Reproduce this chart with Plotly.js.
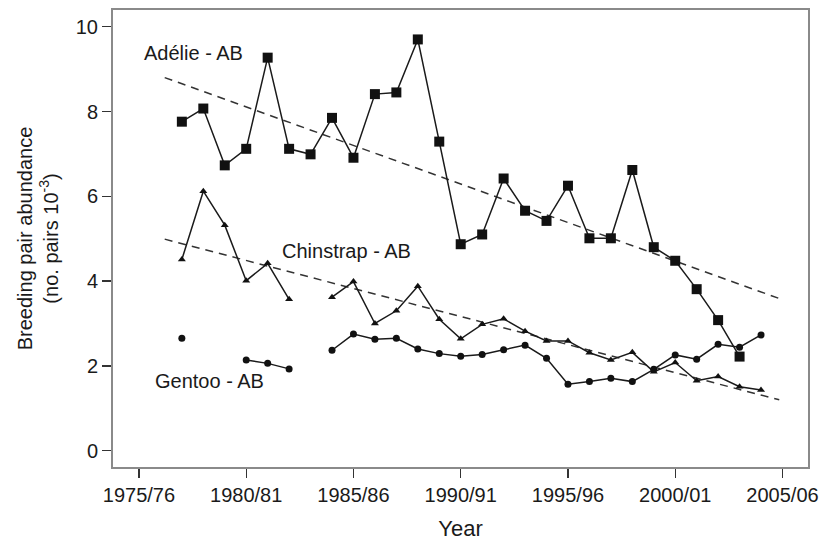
<!DOCTYPE html>
<html>
<head>
<meta charset="utf-8">
<script src="https://cdn.plot.ly/plotly-3.0.1.min.js"></script>
<style>html,body{margin:0;padding:0;background:#fff;}#chart{width:828px;height:544px;}</style>
</head>
<body>
<div id="chart"></div>
<script>
// Breeding season start year (1977 = 1977/78)
const years = [1977,1978,1979,1980,1981,1982,1983,1984,1985,1986,1987,1988,1989,1990,1991,1992,1993,1994,1995,1996,1997,1998,1999,2000,2001,2002,2003,2004];
const adelie = [7.76,8.07,6.73,7.12,9.27,7.12,6.99,7.85,6.91,8.41,8.45,9.70,7.29,4.87,5.10,6.42,5.66,5.42,6.25,5.01,5.01,6.62,4.80,4.48,3.81,3.08,2.22,null];
const chinstrap = [4.51,6.12,5.32,4.01,4.42,3.57,null,3.62,3.99,3.00,3.30,3.88,3.10,2.64,2.98,3.11,2.82,2.59,2.59,2.31,2.14,2.32,1.86,2.08,1.65,1.75,1.51,1.43];
const gentoo = [2.65,null,null,2.14,2.06,1.93,null,2.37,2.75,2.63,2.65,2.40,2.29,2.23,2.27,2.38,2.49,2.18,1.57,1.63,1.71,1.63,1.92,2.26,2.16,2.51,2.44,2.73];
// Linear trend lines (end points)
const trendYears = [1976.2, 2004.85];
const adelieTrend = [8.80, 3.59];
const chinstrapTrend = [4.99, 1.20];
// Tick labels
const tickYears = [1975,1980,1985,1990,1995,2000,2005];
const tickLabels = ["1975/76","1980/81","1985/86","1990/91","1995/96","2000/01","2005/06"];
const yTicks = [0,2,4,6,8,10];
// Series labels
const labelText = ["Adélie - AB","Chinstrap - AB","Gentoo - AB"];
const labelX = [1975.16, 1981.56, 1975.65];
const labelY = [9.38, 4.71, 1.65];

const ink = '#1a1a1a';
const fontFam = 'Liberation Sans, Arial, Helvetica, sans-serif';

const traces = [
  {x: trendYears, y: adelieTrend, mode: 'lines', name: 'Adélie trend', line: {color: '#333', width: 1.5, dash: '8px,6px'}, hoverinfo: 'skip'},
  {x: trendYears, y: chinstrapTrend, mode: 'lines', name: 'Chinstrap trend', line: {color: '#333', width: 1.5, dash: '8px,6px'}, hoverinfo: 'skip'},
  {x: years, y: adelie, mode: 'lines+markers', connectgaps: false, name: 'Adélie',
   line: {color: ink, width: 1.5}, marker: {symbol: 'square', size: 10, color: '#111'}},
  {x: years, y: chinstrap, mode: 'lines+markers', connectgaps: false, name: 'Chinstrap',
   line: {color: ink, width: 1.5}, marker: {symbol: 'triangle-up', size: 7, color: '#111'}},
  {x: years, y: gentoo, mode: 'lines+markers', connectgaps: false, name: 'Gentoo',
   line: {color: ink, width: 1.5}, marker: {symbol: 'circle', size: 7, color: '#111'}}
];

const annotations = labelText.map((t, i) => ({
  x: labelX[i], y: labelY[i], xref: 'x', yref: 'y', text: t, showarrow: false,
  xanchor: 'left', yanchor: 'middle', font: {family: fontFam, size: 20, color: ink}
}));

const layout = {
  width: 828, height: 544,
  margin: {l: 113, r: 20, t: 10, b: 77},
  paper_bgcolor: '#fff', plot_bgcolor: '#fff',
  showlegend: false,
  font: {family: fontFam, color: ink},
  xaxis: {
    range: [1973.79, 2006.19], showgrid: false, zeroline: false,
    tickmode: 'array', tickvals: tickYears, ticktext: tickLabels,
    ticks: 'outside', ticklen: 9, tickcolor: '#333', tickwidth: 1.3,
    tickfont: {size: 20, family: fontFam, color: ink},
    showline: true, mirror: true, linecolor: '#8a8a8a', linewidth: 2,
    title: {text: 'Year', font: {size: 22, family: fontFam, color: ink}, standoff: 16}
  },
  yaxis: {
    range: [-0.384, 10.394], showgrid: false, zeroline: false,
    tickmode: 'array', tickvals: yTicks,
    ticks: 'outside', ticklen: 9, tickcolor: '#333', tickwidth: 1.3,
    tickfont: {size: 20, family: fontFam, color: ink},
    showline: true, mirror: true, linecolor: '#8a8a8a', linewidth: 2,
    title: {text: 'Breeding pair abundance<br>(no. pairs 10<sup>-3</sup>)', font: {size: 20, family: fontFam, color: ink}, standoff: 12}
  },
  annotations: annotations
};

Plotly.newPlot('chart', traces, layout, {staticPlot: true, displayModeBar: false});
</script>
</body>
</html>
